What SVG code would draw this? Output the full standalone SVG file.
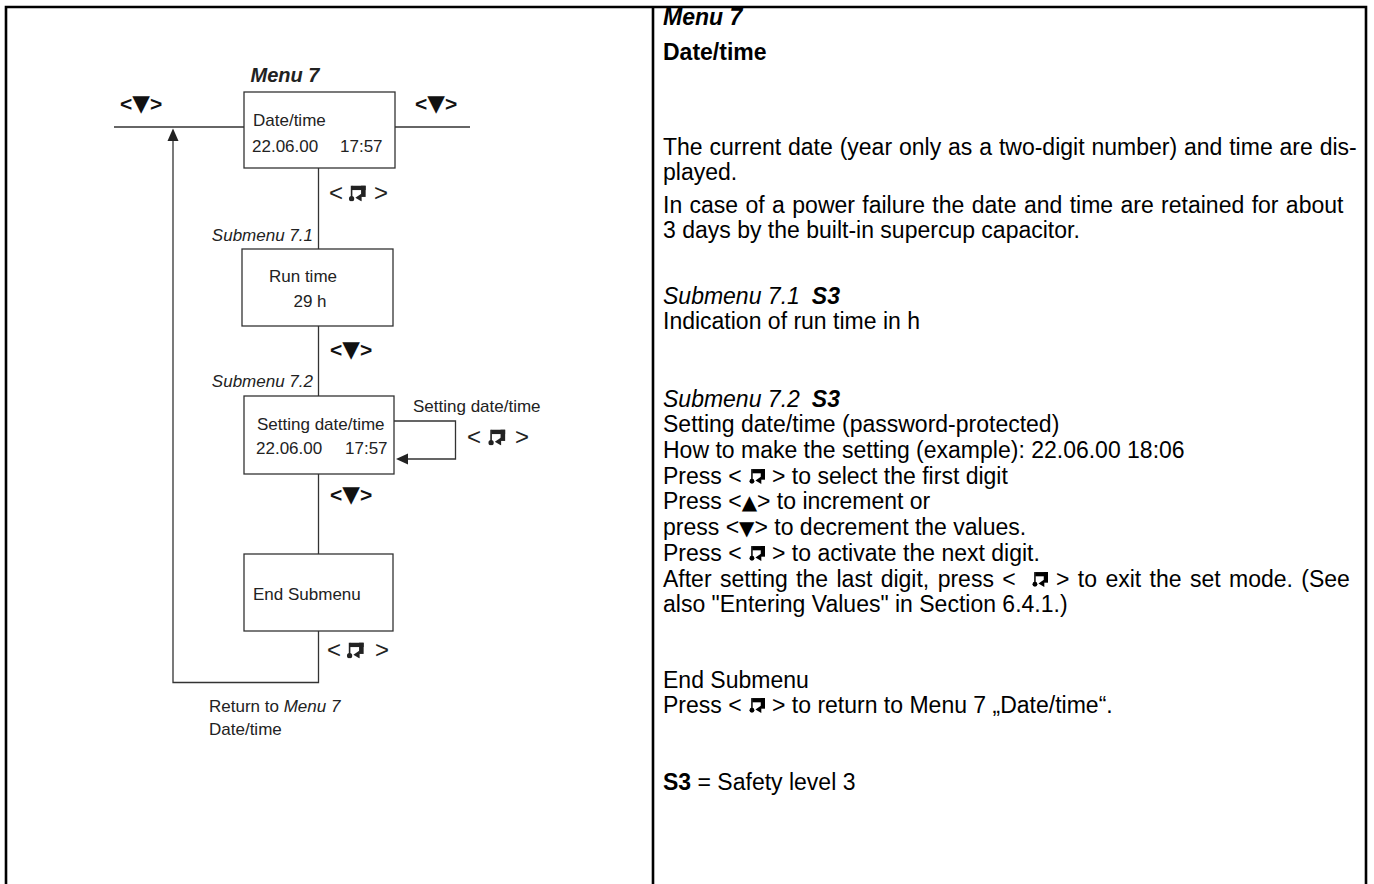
<svg xmlns="http://www.w3.org/2000/svg" width="1374" height="884" viewBox="0 0 1374 884">
<style>
.d{font-family:"Liberation Sans",Arial,sans-serif;font-size:17px;fill:#222}
.i{font-style:italic}
.b{font-weight:bold}
.key{font-family:"Liberation Sans",Arial,sans-serif;font-size:21px;font-weight:bold;fill:#111}
.tri{font-family:"DejaVu Sans",sans-serif;font-size:23px;font-weight:bold}
.stri{font-family:"DejaVu Sans",sans-serif;font-size:20px}
.ang{font-family:"Liberation Sans",sans-serif;font-size:24px;fill:#222}
.r{font-family:"Liberation Sans",Arial,sans-serif;font-size:23px;fill:#000}
.box{fill:#fff;stroke:#333;stroke-width:1.3}
.ln{fill:none;stroke:#333;stroke-width:1.3}
.frame{fill:none;stroke:#000;stroke-width:2.6}
</style>
<defs>
<symbol id="ent" viewBox="0 0 16 14">
<rect x="4" y="0" width="12" height="4"/>
<rect x="12" y="0" width="4" height="10"/>
<polygon points="12.5,7 7,10.8 12.5,14"/>
<rect x="3" y="0" width="1.4" height="11"/>
<circle cx="3.7" cy="11.5" r="2.3"/>
</symbol>
</defs>

<g id="frame">
<path class="frame" d="M6,884 V7 H1366 V884"/>
<line class="frame" x1="653" y1="7" x2="653" y2="884"/>
</g>

<g id="connectors">
<line class="ln" x1="114" y1="127" x2="244" y2="127"/>
<line class="ln" x1="395" y1="127" x2="470" y2="127"/>
<line class="ln" x1="318.5" y1="168" x2="318.5" y2="249"/>
<line class="ln" x1="318.5" y1="326" x2="318.5" y2="396"/>
<path class="ln" d="M394,421 H455.5 V459 H407"/>
<polygon points="396,459 408,453.5 408,464.5" fill="#222"/>
<line class="ln" x1="318.5" y1="474" x2="318.5" y2="554"/>
<path class="ln" d="M318.5,631 V682.5 H173 V139"/>
<polygon points="173,128.5 167.5,141 178.5,141" fill="#222"/>
</g>

<g id="labels">
<text class="d i b" x="285" y="82" text-anchor="middle" style="font-size:20px">Menu 7</text>
<text class="key" x="120" y="111">&lt;<tspan class="tri">▼</tspan>&gt;</text>
<text class="key" x="415" y="111">&lt;<tspan class="tri">▼</tspan>&gt;</text>
<text class="key" x="330" y="357">&lt;<tspan class="tri">▼</tspan>&gt;</text>
<text class="key" x="330" y="502">&lt;<tspan class="tri">▼</tspan>&gt;</text>
<text class="d i" x="313" y="241" text-anchor="end">Submenu 7.1</text>
<text class="d i" x="313" y="387" text-anchor="end">Submenu 7.2</text>
<text class="d" x="413" y="412">Setting date/time</text>
<text class="d" x="209" y="712">Return to <tspan class="i">Menu 7</tspan></text>
<text class="d" x="209" y="735">Date/time</text>
<g id="enter1">
<text class="ang" x="329" y="201">&lt;</text>
<use href="#ent" x="346" y="185.5" width="21" height="16" fill="#222"/>
<text class="ang" x="374" y="201">&gt;</text>
</g>
<g id="enter2">
<text class="ang" x="467" y="445">&lt;</text>
<use href="#ent" x="485" y="429.5" width="22" height="16" fill="#222"/>
<text class="ang" x="515" y="445">&gt;</text>
</g>
<g id="enter3">
<text class="ang" x="327" y="658">&lt;</text>
<use href="#ent" x="344" y="642.5" width="21" height="16" fill="#222"/>
<text class="ang" x="375" y="658">&gt;</text>
</g>
</g>

<g id="menu7">
<rect class="box" x="244" y="92" width="151" height="76"/>
<text class="d" x="253" y="126">Date/time</text>
<text class="d" x="252" y="152">22.06.00</text>
<text class="d" x="340" y="152">17:57</text>
</g>

<g id="sub71">
<rect class="box" x="242" y="249" width="151" height="77"/>
<text class="d" x="303" y="282" text-anchor="middle">Run time</text>
<text class="d" x="310" y="307" text-anchor="middle">29 h</text>
</g>

<g id="sub72">
<rect class="box" x="244" y="396" width="150" height="78"/>
<text class="d" x="257" y="430">Setting date/time</text>
<text class="d" x="256" y="454">22.06.00</text>
<text class="d" x="345" y="454">17:57</text>
</g>

<g id="endsub">
<rect class="box" x="244" y="554" width="149" height="77"/>
<text class="d" x="253" y="600">End Submenu</text>
</g>

<g id="description">
<text class="r i b" x="663" y="25">Menu 7</text>
<text class="r b" x="663" y="60">Date/time</text>
<text class="r" x="663" y="155" word-spacing="0.5">The current date (year only as a two-digit number) and time are dis-</text>
<text class="r" x="663" y="180">played.</text>
<text class="r" x="663" y="213" word-spacing="1">In case of a power failure the date and time are retained for about</text>
<text class="r" x="663" y="238">3 days by the built-in supercup capacitor.</text>
<text class="r i" x="663" y="304">Submenu 7.1<tspan class="b" dx="12">S3</tspan></text>
<text class="r" x="663" y="329">Indication of run time in h</text>
<text class="r i" x="663" y="407">Submenu 7.2<tspan class="b" dx="12">S3</tspan></text>
<text class="r" x="663" y="432">Setting date/time (password-protected)</text>
<text class="r" x="663" y="458">How to make the setting (example): 22.06.00 18:06</text>
<text class="r" x="663" y="484">Press &lt;<tspan x="772">&gt; to select the first digit</tspan></text>
<use href="#ent" x="748" y="469" width="17" height="15" fill="#000"/>
<text class="r" x="663" y="509">Press &lt;<tspan class="stri">▲</tspan>&gt; to increment or</text>
<text class="r" x="663" y="535">press &lt;<tspan class="stri">▼</tspan>&gt; to decrement the values.</text>
<text class="r" x="663" y="561">Press &lt;<tspan x="772">&gt; to activate the next digit.</tspan></text>
<use href="#ent" x="748" y="546" width="17" height="15" fill="#000"/>
<text class="r" x="663" y="587" word-spacing="2">After setting the last digit, press &lt;<tspan x="1056">&gt; to exit the set mode. (See</tspan></text>
<use href="#ent" x="1031" y="572" width="17" height="15" fill="#000"/>
<text class="r" x="663" y="612">also "Entering Values" in Section 6.4.1.)</text>
<text class="r" x="663" y="688">End Submenu</text>
<text class="r" x="663" y="713">Press &lt;<tspan x="772">&gt; to return to Menu 7 „Date/time“.</tspan></text>
<use href="#ent" x="748" y="698" width="17" height="15" fill="#000"/>
<text class="r" x="663" y="790"><tspan class="b">S3</tspan> = Safety level 3</text>
</g>
</svg>
